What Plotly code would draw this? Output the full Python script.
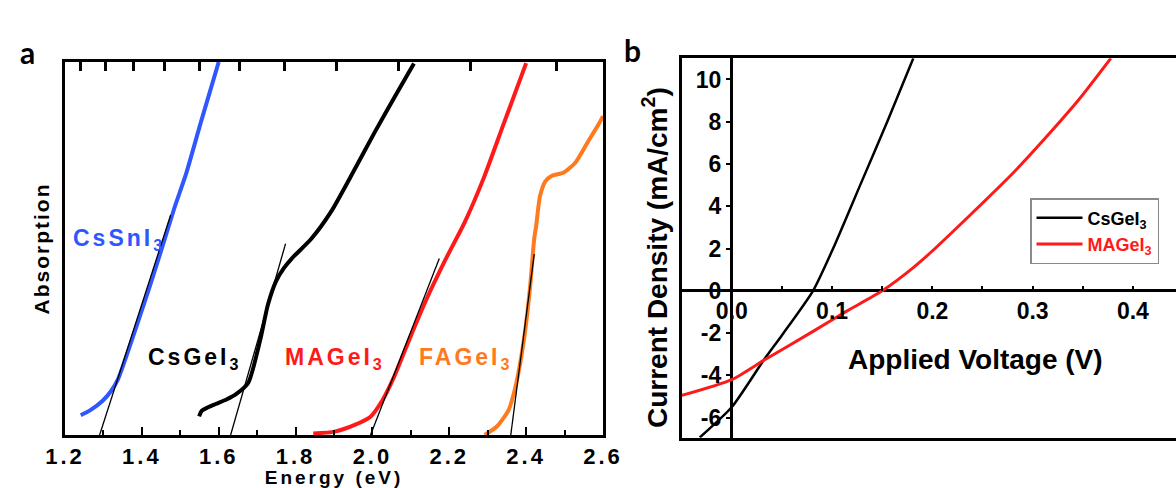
import plotly.graph_objects as go

# ---------------- Panel a data (absorption edges) ----------------
cssni3_E = [1.241, 1.265, 1.298, 1.32, 1.338, 1.379, 1.421, 1.455, 1.485, 1.515, 1.554, 1.600]
cssni3_A = [0.053, 0.066, 0.092, 0.118, 0.150, 0.270, 0.400, 0.510, 0.610, 0.700, 0.840, 1.000]
cssni3_fit_E = [1.29, 1.475]
cssni3_fit_A = [0.0, 0.59]

csgei3_E = [1.549, 1.556, 1.585, 1.620, 1.646, 1.677, 1.708, 1.728, 1.749, 1.770, 1.790, 1.841, 1.892, 1.950, 2.005, 2.060, 2.108]
csgei3_A = [0.050, 0.065, 0.080, 0.095, 0.110, 0.140, 0.255, 0.349, 0.412, 0.448, 0.473, 0.526, 0.598, 0.705, 0.810, 0.910, 0.996]
csgei3_fit_E = [1.631, 1.774]
csgei3_fit_A = [0.0, 0.513]

magei3_E = [1.846, 1.902, 1.954, 1.995, 2.026, 2.056, 2.098, 2.138, 2.190, 2.240, 2.290, 2.340, 2.400]
magei3_A = [0.004, 0.009, 0.027, 0.049, 0.093, 0.155, 0.261, 0.358, 0.470, 0.570, 0.690, 0.830, 0.997]
magei3_fit_E = [1.995, 2.174]
magei3_fit_A = [0.0, 0.473]

fagei3_E = [2.292, 2.323, 2.354, 2.374, 2.395, 2.410, 2.421, 2.426, 2.436, 2.450, 2.467, 2.498, 2.528, 2.559, 2.590, 2.600]
fagei3_A = [0.000, 0.022, 0.066, 0.137, 0.261, 0.394, 0.526, 0.560, 0.640, 0.680, 0.695, 0.704, 0.730, 0.783, 0.836, 0.855]
fagei3_fit_E = [2.36, 2.421]
fagei3_fit_A = [0.0, 0.485]

energy_ticks = [1.2, 1.4, 1.6, 1.8, 2.0, 2.2, 2.4, 2.6]
wavelength_ticks_nm = [1000, 950, 900, 850, 800, 750, 700, 650, 600, 550, 500]

labels_a = ["CsSnI", "CsGeI", "MAGeI", "FAGeI"]
labels_a_E = [1.216, 1.411, 1.768, 2.117]   # left edge of each label (eV)
labels_a_A = [0.525, 0.206, 0.206, 0.206]

# ---------------- Panel b data (J-V curves) ----------------
cs_V = [-0.032, 0.0, 0.0315, 0.05, 0.081, 0.101, 0.128, 0.155, 0.181]
cs_J = [-6.94, -5.5, -3.3, -2.1, 0.0, 2.0, 5.0, 8.0, 11.0]

ma_V = [-0.05, 0.0, 0.0315, 0.081, 0.115, 0.15, 0.181, 0.198, 0.238, 0.281, 0.314, 0.347, 0.378]
ma_J = [-4.95, -4.2, -3.3, -1.92, -0.95, 0.0, 1.1, 1.8, 3.6, 5.6, 7.3, 9.1, 11.0]

v_ticks = [0.0, 0.1, 0.2, 0.3, 0.4]
j_ticks = [-6, -4, -2, 0, 2, 4, 6, 8, 10]

# ---------------- styling ----------------
W, H = 1176, 488
BLUE = "#2f56ff"
RED = "#ff1a1a"
ORANGE = "#ff7a1f"
BLACK = "#000000"
FONT = "Liberation Sans, Arial, sans-serif"

ax_a_x = [65 / W, 603 / W]
ax_a_y = [1 - 435 / H, 1 - 62 / H]
ax_b_x = [681.7 / W, 1.0]
ax_b_y = [1 - 437.7 / H, 1 - 58.3 / H]
a_xrange = [1.2, 2.6]
a_yrange = [0.0, 1.0]
b_xrange = [-0.05, 0.443]
b_yrange = [-6.95, 11.0]

fig = go.Figure()

def curve(x, y, color, width, xa="x", ya="y", shape="spline", name=None, legend=False):
    fig.add_trace(go.Scatter(
        x=x, y=y, mode="lines", xaxis=xa, yaxis=ya,
        line=dict(color=color, width=width, shape=shape, smoothing=0.6 if shape == "spline" else None),
        name=name, showlegend=legend, hoverinfo="skip"))

curve(cssni3_E, cssni3_A, BLUE, 4)
curve(csgei3_E, csgei3_A, BLACK, 4)
curve(magei3_E, magei3_A, RED, 4)
curve(fagei3_E, fagei3_A, ORANGE, 4)
# tangent (band-gap) lines, drawn on the top axis which shares the energy scale
for fx, fy in [(cssni3_fit_E, cssni3_fit_A), (csgei3_fit_E, csgei3_fit_A),
               (magei3_fit_E, magei3_fit_A), (fagei3_fit_E, fagei3_fit_A)]:
    curve(fx, fy, BLACK, 1.3, xa="x2", ya="y", shape="linear")

curve(cs_V, cs_J, BLACK, 2.5, xa="x3", ya="y3", name="CsGeI<sub>3</sub>", legend=True)
curve(ma_V, ma_J, RED, 3, xa="x3", ya="y3",
      name="<span style='color:%s'>MAGeI<sub>3</sub></span>" % RED, legend=True)
fig.add_trace(go.Scatter(x=[None], y=[None], xaxis="x4", yaxis="y4", showlegend=False, hoverinfo="skip"))

pos_x0 = ax_b_x[0] + (0 - b_xrange[0]) / (b_xrange[1] - b_xrange[0]) * (ax_b_x[1] - ax_b_x[0])
pos_y0 = ax_b_y[0] + (0 - b_yrange[0]) / (b_yrange[1] - b_yrange[0]) * (ax_b_y[1] - ax_b_y[0])

def spaced(t, px=2):
    return "<span style='letter-spacing:%spx'>%s</span>" % (px, t)

tickfont_a = dict(family=FONT, size=22, color=BLACK, weight="bold")
tickfont_b = dict(family=FONT, size=23, color=BLACK, weight="bold")

fig.update_layout(
    template="none",
    width=W, height=H, autosize=False,
    margin=dict(l=0, r=0, t=0, b=0, pad=0),
    paper_bgcolor="white", plot_bgcolor="white",
    showlegend=True,
    legend=dict(x=1030 / W, y=1 - 198 / H, xanchor="left", yanchor="top",
                bordercolor="#8a8a8a", borderwidth=1.5, bgcolor="white",
                font=dict(family=FONT, size=18, color=BLACK, weight="bold"),
                itemwidth=46, tracegroupgap=0),
    xaxis=dict(domain=ax_a_x, range=a_xrange, anchor="y", automargin=False,
               showline=True, linecolor=BLACK, linewidth=3, mirror=True,
               showgrid=False, zeroline=False,
               tickmode="array", tickvals=energy_ticks,
               ticktext=[spaced("%.1f" % v, 3) for v in energy_ticks],
               ticks="inside", ticklen=8, tickwidth=2, tickcolor=BLACK,
               minor=dict(dtick=0.1, tick0=1.2, ticks="inside", ticklen=5, tickwidth=2, tickcolor=BLACK),
               tickfont=tickfont_a, ticklabelstandoff=0,
               title=dict(text=spaced("Energy (eV)", 3), standoff=4,
                          font=dict(family=FONT, size=19, color=BLACK, weight="bold"))),
    xaxis2=dict(overlaying="x", side="top", anchor="y", range=a_xrange, automargin=False,
                showline=False, showgrid=False, zeroline=False,
                tickmode="array", tickvals=[1240.0 / w for w in wavelength_ticks_nm],
                ticks="inside", ticklen=9, tickwidth=2.5, tickcolor=BLACK,
                showticklabels=False),
    yaxis=dict(domain=ax_a_y, range=a_yrange, anchor="x", automargin=False,
               showline=True, linecolor=BLACK, linewidth=3, mirror=True,
               showgrid=False, zeroline=False, ticks="", showticklabels=False,
               title=dict(text=spaced("Absorption", 2), standoff=7,
                          font=dict(family=FONT, size=21, color=BLACK, weight="bold"))),
    xaxis3=dict(domain=ax_b_x, range=b_xrange, anchor="y3", automargin=False,
                showline=True, linecolor=BLACK, linewidth=3, mirror=True,
                showgrid=False, zeroline=True, zerolinecolor=BLACK, zerolinewidth=3,
                ticks="", showticklabels=False),
    yaxis3=dict(domain=ax_b_y, range=b_yrange, anchor="x3", automargin=False,
                showline=True, linecolor=BLACK, linewidth=3, mirror=False,
                showgrid=False, zeroline=True, zerolinecolor=BLACK, zerolinewidth=3,
                ticks="", showticklabels=False),
    xaxis4=dict(overlaying="x3", anchor="free", position=pos_y0, side="bottom",
                range=b_xrange, showline=False, showgrid=False, zeroline=False, automargin=False,
                tickmode="array", tickvals=v_ticks, ticktext=["%.1f" % v for v in v_ticks],
                ticks="inside", ticklen=5, tickwidth=2, tickcolor=BLACK,
                minor=dict(dtick=0.05, tick0=0, ticks="inside", ticklen=5, tickwidth=2, tickcolor=BLACK),
                tickfont=tickfont_b, ticklabelstandoff=4),
    yaxis4=dict(overlaying="y3", anchor="free", position=pos_x0, side="left",
                range=b_yrange, showline=False, showgrid=False, zeroline=False, automargin=False,
                tickmode="array", tickvals=j_ticks, ticktext=[str(v) for v in j_ticks],
                ticks="outside", ticklen=6, tickwidth=2, tickcolor=BLACK,
                tickfont=tickfont_b, ticklabelstandoff=0),
)

label_colors = [BLUE, BLACK, RED, ORANGE]
for t, ex, ay, c in zip(labels_a, labels_a_E, labels_a_A, label_colors):
    fig.add_annotation(x=ex, y=ay, xref="x", yref="y", showarrow=False, xanchor="left",
                       text="<b>%s<sub>3</sub></b>" % spaced(t, 3),
                       font=dict(family=FONT, size=23, color=c))

fig.add_annotation(x=0.2426, y=-3.26, xref="x3", yref="y3", showarrow=False,
                   text="<b>Applied Voltage (V)</b>",
                   font=dict(family=FONT, size=28, color=BLACK))
fig.add_annotation(x=655 / W, y=1 - 258 / H, xref="paper", yref="paper", showarrow=False,
                   textangle=-90, text="<b>Current Density (mA/cm<sup>2</sup>)</b>",
                   font=dict(family=FONT, size=28, color=BLACK))
fig.add_annotation(x=18 / W, y=1 - 32 / H, xref="paper", yref="paper", showarrow=False,
                   text="<b>a</b>", font=dict(family="Lato, Open Sans, sans-serif", size=30, color=BLACK))
fig.add_annotation(x=632 / W, y=1 - 30 / H, xref="paper", yref="paper", showarrow=False,
                   text="<b>b</b>", font=dict(family="Lato, Open Sans, sans-serif", size=30, color=BLACK))

fig.write_html("out.html")
